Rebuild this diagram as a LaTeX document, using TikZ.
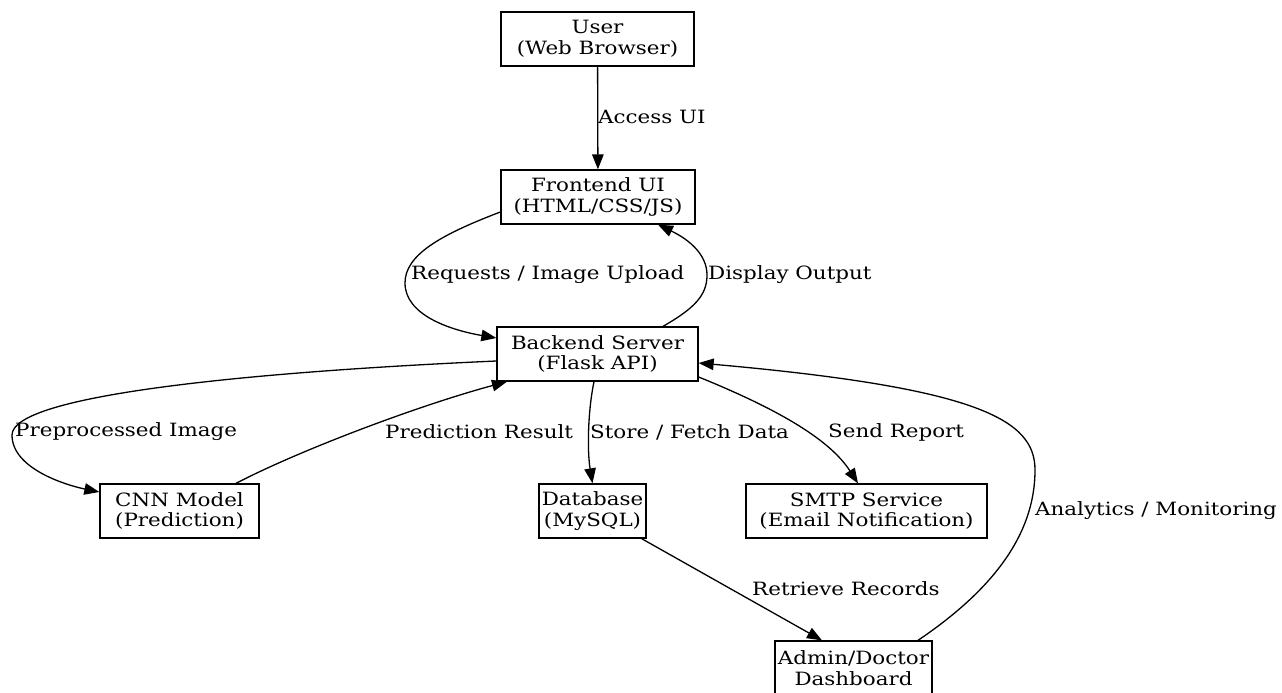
\documentclass[tikz,border=0pt]{standalone}
\usepackage{fontspec}
\setmainfont{DejaVu Serif}[FakeStretch=1.17]
\usetikzlibrary{arrows.meta}
\newcommand\dgfont{\fontsize{18.3}{20.5}\selectfont}
\begin{document}
\begin{tikzpicture}[x=1pt,y=-1pt,
  box/.style={draw, line width=1.3pt, inner sep=0pt, align=center, font=\dgfont, minimum height=54pt},
  lbl/.style={inner sep=0pt, anchor=west, font=\dgfont},
  edge/.style={line width=1.3pt, -{Triangle[length=15pt,width=11.5pt]}}]
\useasboundingbox (0,0) rectangle (1282,693);

\node[box, minimum width=193pt] (user)  at (597.5,39)  {User\\(Web Browser)};
\node[box, minimum width=194pt] (front) at (598,197)   {Frontend UI\\(HTML/CSS/JS)};
\node[box, minimum width=201pt] (back)  at (597.5,354) {Backend Server\\(Flask API)};
\node[box, minimum width=159pt] (cnn)   at (179.5,511) {CNN Model\\(Prediction)};
\node[box, minimum width=107pt] (db)    at (592.5,511) {Database\\(MySQL)};
\node[box, minimum width=241pt] (smtp)  at (866.5,511) {SMTP Service\\(Email Notification)};
\node[box, minimum width=157pt] (admin) at (853.5,668) {Admin/Doctor\\Dashboard};

% User -> Frontend
\draw[edge] (user) -- (front);
\node[lbl] (l1) at (598,117) {Access UI};

% Frontend -> Backend
\draw[edge] ([yshift=-15pt]front.west) .. controls (440,235) and (405,255) .. (405,283)
  .. controls (405,315) and (450,330) .. ([yshift=16pt]back.west);
\node[lbl] (l2) at (411,275) {Requests / Image Upload};

% Backend -> Frontend
\draw[edge] ([xshift=65.5pt]back.north) .. controls (695,308) and (707,295) .. (707,275)
  .. controls (707,255) and (690,240) .. ([xshift=60pt]front.south);
\node[lbl] (l3) at (708,275) {Display Output};

% Backend -> CNN
\draw[edge] ([yshift=-7pt]back.west) .. controls (250,372) and (12,395) .. (12,435)
  .. controls (12,470) and (70,486) .. ([yshift=19pt]cnn.west);
\node[lbl] (l4) at (15,432) {Preprocessed Image};

% CNN -> Backend
\draw[edge] ([xshift=56.5pt]cnn.north) .. controls (300,450) and (420,405) .. ([xshift=-90.5pt]back.south);
\node[lbl] (l5) at (385,432) {Prediction Result};

% Backend -> Database
\draw[edge] ([xshift=-3.5pt]back.south) .. controls (588,410) and (587,450) .. (db.north);
\node[lbl] (l6) at (590,432) {Store / Fetch Data};

% Backend -> SMTP
\draw[edge] ([yshift=-23pt]back.east) .. controls (780,410) and (830,440) .. ([xshift=-8.5pt]smtp.north);
\node[lbl] (l7) at (828,432) {Send Report};

% Database -> Admin
\draw[edge] ([xshift=-5pt]db.south east) -- ([xshift=-31.5pt]admin.north);
\node[lbl] (l8) at (752,589) {Retrieve Records};

% Admin -> Backend
\draw[edge] ([xshift=64.5pt]admin.north) .. controls (985,595) and (1035,540) .. (1035,470)
  .. controls (1035,420) and (980,388) .. ([yshift=-9pt]back.east);
\node[lbl] (l9) at (1035,511) {Analytics / Monitoring};
\end{tikzpicture}
\end{document}
